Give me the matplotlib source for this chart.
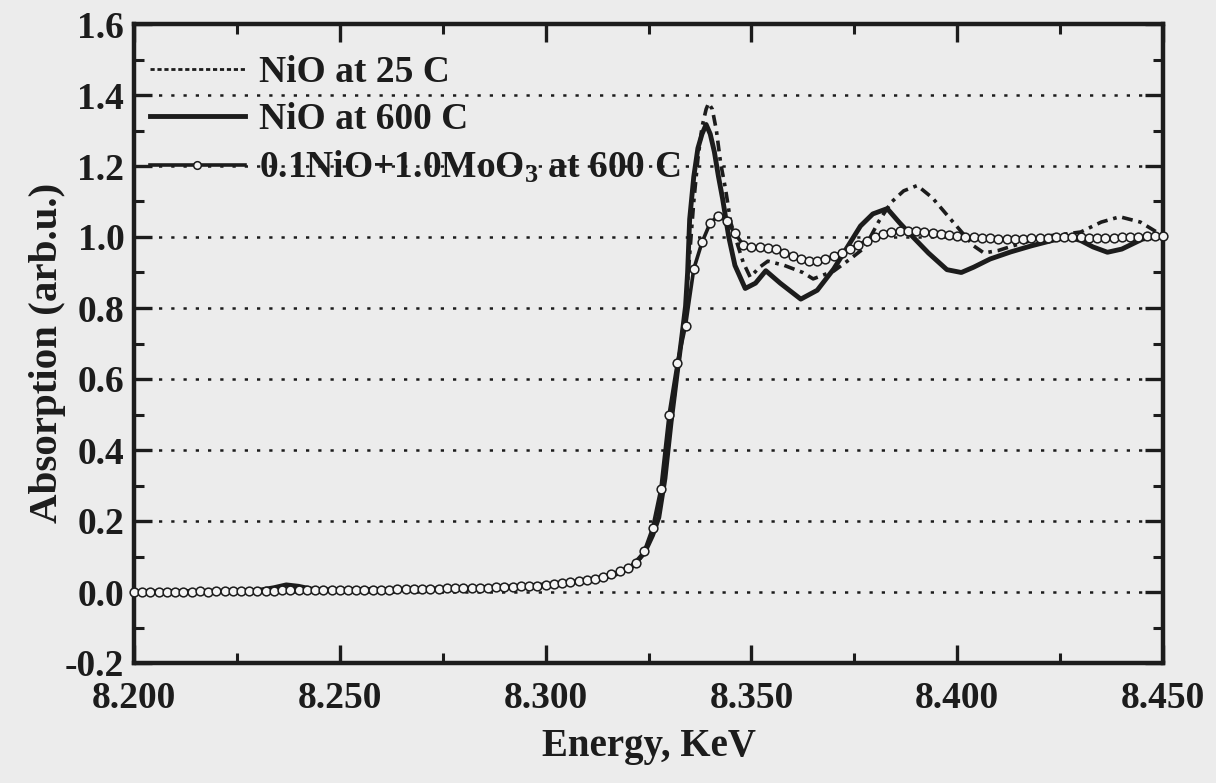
import numpy as np
import matplotlib
matplotlib.use("Agg")
import matplotlib.pyplot as plt
from matplotlib.lines import Line2D
from matplotlib.ticker import MultipleLocator, FormatStrFormatter

plt.rcParams['font.family'] = ['Liberation Serif', 'DejaVu Serif']
plt.rcParams['font.weight'] = 'bold'
plt.rcParams['mathtext.fontset'] = 'custom'
plt.rcParams['mathtext.rm'] = 'Liberation Serif:bold'
plt.rcParams['mathtext.it'] = 'Liberation Serif:bold'
plt.rcParams['mathtext.bf'] = 'Liberation Serif:bold'
plt.rcParams['mathtext.default'] = 'rm'

# ---------------- data ----------------
labels = ["NiO at 25 C", "NiO at 600 C", r"0.1NiO+1.0MoO$_3$ at 600 C"]

energy_25 = [8.200, 8.240, 8.280, 8.300, 8.310, 8.316, 8.320, 8.323, 8.3255, 8.3275,
             8.329, 8.3305, 8.332, 8.334, 8.335, 8.336, 8.337, 8.338, 8.339, 8.3396,
             8.3405, 8.3415, 8.3425, 8.3437, 8.345, 8.3466, 8.348, 8.3497, 8.352, 8.354,
             8.358, 8.3625, 8.365, 8.370, 8.374, 8.3775, 8.381, 8.384, 8.387, 8.3903,
             8.394, 8.399, 8.404, 8.4065, 8.410, 8.4135, 8.418, 8.422, 8.426, 8.430,
             8.435, 8.4395, 8.4445, 8.450]
absorb_25 = [0.000, 0.005, 0.010, 0.018, 0.030, 0.045, 0.065, 0.095, 0.150, 0.220,
             0.330, 0.480, 0.620, 0.800, 0.950, 1.100, 1.220, 1.310, 1.360, 1.377,
             1.360, 1.300, 1.210, 1.136, 1.040, 0.980, 0.929, 0.887, 0.915, 0.932,
             0.920, 0.900, 0.882, 0.904, 0.938, 0.970, 1.045, 1.098, 1.130, 1.145,
             1.110, 1.042, 0.975, 0.955, 0.962, 0.975, 0.990, 1.003, 1.008, 1.014,
             1.042, 1.057, 1.042, 1.003]

energy_600 = [8.200, 8.220, 8.230, 8.234, 8.237, 8.240, 8.244, 8.260, 8.280, 8.295,
              8.305, 8.312, 8.317, 8.321, 8.324, 8.326, 8.3275, 8.329, 8.3305, 8.332,
              8.333, 8.334, 8.3345, 8.335, 8.336, 8.337, 8.338, 8.339, 8.340, 8.341,
              8.342, 8.343, 8.3445, 8.346, 8.3485, 8.351, 8.3535, 8.357, 8.362, 8.366,
              8.370, 8.3735, 8.3765, 8.3795, 8.383, 8.386, 8.389, 8.393, 8.3975, 8.401,
              8.404, 8.408, 8.413, 8.418, 8.423, 8.427, 8.430, 8.433, 8.4365, 8.440,
              8.445, 8.450]
absorb_600 = [0.000, 0.002, 0.004, 0.012, 0.020, 0.016, 0.006, 0.007, 0.010, 0.016,
              0.025, 0.036, 0.050, 0.072, 0.110, 0.160, 0.210, 0.320, 0.480, 0.620,
              0.710, 0.805, 0.900, 1.050, 1.170, 1.250, 1.290, 1.317, 1.290, 1.240,
              1.170, 1.108, 1.000, 0.920, 0.855, 0.870, 0.905, 0.870, 0.825, 0.850,
              0.910, 0.975, 1.031, 1.065, 1.080, 1.040, 1.003, 0.955, 0.908, 0.900,
              0.915, 0.938, 0.958, 0.975, 0.990, 1.000, 0.990, 0.972, 0.957, 0.966,
              0.994, 1.003]

# measurement grid of the mixed sample (step 0.002 KeV)
energy_mix = np.round(np.arange(8.200, 8.4501, 0.002), 3)
absorb_mix = [
    0.000, 0.000, 0.001, 0.000, 0.001, 0.001, 0.000, 0.001, 0.002, 0.001, 0.002, 0.002, 0.002, 0.003, 0.003, 0.003,
    0.004, 0.004, 0.005, 0.005, 0.005, 0.005, 0.005, 0.005, 0.006, 0.006, 0.006, 0.006, 0.007, 0.007, 0.007,
    0.007, 0.008, 0.008, 0.008, 0.009, 0.009, 0.009, 0.010, 0.010, 0.011, 0.011, 0.012, 0.012, 0.013, 0.014,
    0.015, 0.016, 0.017, 0.018, 0.020, 0.022, 0.024, 0.027, 0.030, 0.034, 0.038, 0.043, 0.050, 0.058, 0.068,
    0.082, 0.115, 0.180, 0.290, 0.500, 0.645, 0.750, 0.910, 0.985, 1.040, 1.060, 1.045, 1.010, 0.978, 0.972,
    0.972, 0.970, 0.966, 0.956, 0.946, 0.938, 0.932, 0.932, 0.937, 0.946, 0.956, 0.967, 0.978, 0.990, 1.000,
    1.008, 1.013, 1.016, 1.017, 1.017, 1.015, 1.012, 1.009, 1.006, 1.003, 1.001, 0.999, 0.998, 0.996, 0.995,
    0.994, 0.994, 0.995, 0.996, 0.997, 0.998, 0.999, 1.000, 1.000, 0.999, 0.998, 0.997, 0.997, 0.998, 0.999,
    1.000, 1.001, 1.002, 1.002, 1.003]

x_ticks = [8.200, 8.250, 8.300, 8.350, 8.400, 8.450]
y_ticks = [-0.2, 0.0, 0.2, 0.4, 0.6, 0.8, 1.0, 1.2, 1.4, 1.6]
grid_levels = [0.0, 0.2, 0.4, 0.6, 0.8, 1.0, 1.2, 1.4]

# ---------------- figure ----------------
ink = '#1c1c1c'
bg = '#ececec'
fig = plt.figure(figsize=(12.16, 7.83), dpi=100, facecolor=bg)
ax = fig.add_axes([134/1216, 1-663/783, (1163-134)/1216, (663-24)/783])
ax.set_facecolor(bg)

for g in grid_levels:
    ax.axhline(g, color=ink, lw=1.8, ls=(0, (1.3, 3.6)), zorder=1)

ax.plot(energy_25, absorb_25, color=ink, lw=2.6, ls=(0, (3.0, 1.6, 1.0, 1.6)), zorder=3)
ax.plot(energy_600, absorb_600, color=ink, lw=3.5, zorder=4)
ax.plot(energy_mix, absorb_mix, color=ink, lw=2.6, marker='o', ms=6.3,
        mfc='#f4f4f4', mec=ink, mew=1.1, zorder=5, clip_on=False)

ax.set_xlim(8.200, 8.450)
ax.set_ylim(-0.2, 1.6)
ax.set_xticks(x_ticks)
ax.set_yticks(y_ticks)
ax.xaxis.set_major_formatter(FormatStrFormatter('%.3f'))
ax.yaxis.set_major_formatter(FormatStrFormatter('%.1f'))
ax.xaxis.set_minor_locator(MultipleLocator(0.025))
ax.yaxis.set_minor_locator(MultipleLocator(0.1))
ax.tick_params(which='both', direction='in', top=True, right=True, color=ink,
               labelsize=27, labelcolor=ink)
ax.tick_params(which='major', length=13, width=2.4)
ax.tick_params(which='minor', length=7, width=2.2)
ax.tick_params(axis='x', pad=13)
ax.tick_params(axis='y', pad=7)
for sp in ax.spines.values():
    sp.set_linewidth(3.2)
    sp.set_color(ink)

ax.set_xlabel('Energy, KeV', fontsize=28, fontweight='bold', color=ink)
ax.xaxis.set_label_coords(0.5, -0.102)
ax.set_ylabel('Absorption (arb.u.)', fontsize=29.5, fontweight='bold', color=ink)
ax.yaxis.set_label_coords(-0.066, 0.485)

handles = [
    Line2D([], [], color=ink, lw=2.0, ls=(0, (1.5, 1.0))),
    Line2D([], [], color=ink, lw=3.5),
    Line2D([], [], color=ink, lw=2.6, marker='o', ms=5.5, mfc='#f4f4f4', mec=ink, mew=1.1),
]
leg = ax.legend(handles, labels, loc='upper left', bbox_to_anchor=(0.0155, 0.952),
                frameon=False, fontsize=27, handlelength=2.53, handletextpad=0.37,
                labelspacing=0.33, borderaxespad=0.0, numpoints=1, borderpad=0.0)
for t in leg.get_texts():
    t.set_color(ink)

fig.savefig('out.png', dpi=100, facecolor=bg)
